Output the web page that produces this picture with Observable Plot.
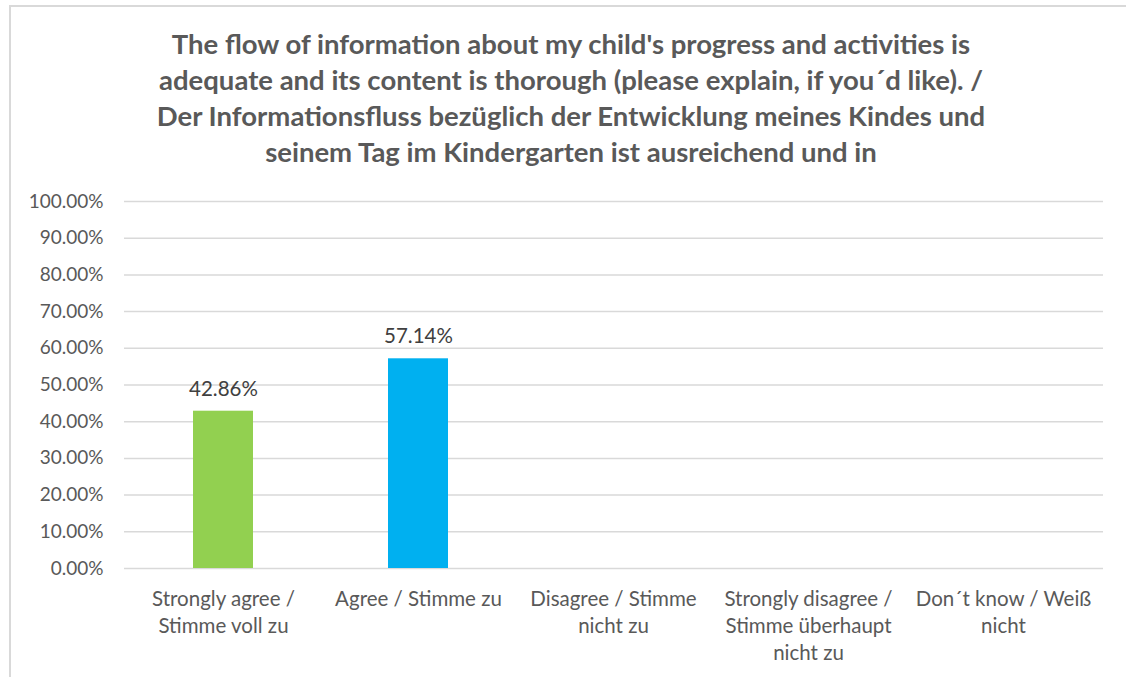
<!DOCTYPE html>
<html>
<head>
<meta charset="utf-8">
<script src="https://cdn.jsdelivr.net/npm/d3@7"></script>
<script src="https://cdn.jsdelivr.net/npm/@observablehq/plot@0.6"></script>
<style>
  html, body { margin: 0; padding: 0; background: #fff; }
  body { width: 1126px; height: 677px; position: relative; overflow: hidden; font-family: Lato, "Open Sans", sans-serif; }
  #frame { position: absolute; left: 9px; top: 5px; width: 1130px; height: 700px; border-left: 2px solid #d9d9d9; border-top: 2px solid #d9d9d9; box-sizing: border-box; }
  #title { position: absolute; left: 0; top: 26px; width: 1142px; text-align: center; font-weight: bold; font-size: 27.5px; line-height: 36px; color: #595959; }
  #chart { position: absolute; left: 0; top: 180px; }
</style>
</head>
<body>
<div id="frame"></div>
<div id="title"></div>
<div id="chart"></div>
<script>
const titleLines = [
  "The flow of information about my child's progress and activities is",
  "adequate and its content is thorough (please explain, if you\u00b4d like). /",
  "Der Informationsfluss bez\u00fcglich der Entwicklung meines Kindes und",
  "seinem Tag im Kindergarten ist ausreichend und in"
];
const categories = [
  "Strongly agree / Stimme voll zu",
  "Agree / Stimme zu",
  "Disagree / Stimme nicht zu",
  "Strongly disagree / Stimme \u00fcberhaupt nicht zu",
  "Don\u00b4t know / Wei\u00df nicht"
];
const categoryLabels = [
  "Strongly agree /\nStimme voll zu",
  "Agree / Stimme zu",
  "Disagree / Stimme\nnicht zu",
  "Strongly disagree /\nStimme \u00fcberhaupt\nnicht zu",
  "Don\u00b4t know / Wei\u00df\nnicht"
];
const values = [0.4286, 0.5714, 0, 0, 0];
const barColors = ["#92D050", "#00B0F0", "#A5A5A5", "#FFC000", "#5B9BD5"];
const yTicks = [0, 0.1, 0.2, 0.3, 0.4, 0.5, 0.6, 0.7, 0.8, 0.9, 1.0];

document.getElementById("title").innerHTML = titleLines.join("<br>");

const data = categories.map((c, i) => ({cat: c, label: categoryLabels[i], value: values[i], color: barColors[i]}));

const chart = Plot.plot({
  width: 1126,
  height: 497,
  marginTop: 21,
  marginBottom: 109,
  marginLeft: 124,
  marginRight: 23,
  style: {fontFamily: "Lato, 'Open Sans', sans-serif", fontSize: "19px", color: "#595959", background: "transparent"},
  x: {domain: categories, paddingInner: 0.69, paddingOuter: 0.345, axis: null},
  y: {domain: [0, 1], axis: null},
  marks: [
    Plot.gridY(yTicks, {stroke: "#d9d9d9", strokeOpacity: 1, strokeWidth: 1.5}),
    Plot.axisY(yTicks, {tickSize: 0, tickPadding: 21, tickFormat: d => (d * 100).toFixed(2) + "%", fill: "#595959", fontSize: 19, label: null}),
    Plot.barY(data.filter(d => d.value > 0), {x: "cat", y: "value", fill: "color"}),
    Plot.text(data.filter(d => d.value > 0), {x: "cat", y: "value", text: d => (d.value * 100).toFixed(2) + "%", dy: -22, fill: "#404040", fontSize: 20.5}),
    Plot.text(data, {x: "cat", text: "label", frameAnchor: "bottom", lineAnchor: "top", dy: 18, lineHeight: 1.32, fill: "#595959", fontSize: 20.5})
  ]
});
document.getElementById("chart").appendChild(chart);
</script>
</body>
</html>
